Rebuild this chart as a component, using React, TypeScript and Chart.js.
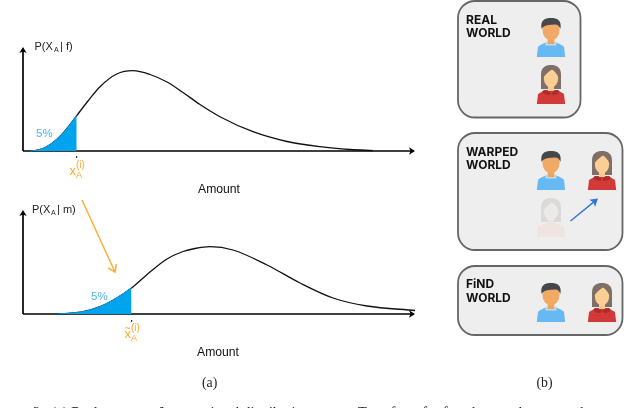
import React, { useEffect, useRef } from "react";
import { Chart, registerables } from "chart.js";

Chart.register(...registerables);

const topAmount = [7, 12, 20, 28, 37, 44, 53.7, 65, 77, 93.7, 110, 127, 144, 160, 177, 197, 230, 264, 297, 327, 350];
const topDensity = [0, 0.4, 2.5, 7, 14.5, 22.5, 35.3, 50, 64.3, 77, 80.3, 76.5, 69, 58.5, 46.5, 34.3, 19.3, 9.5, 4.3, 1.5, 0.4];
const topShadeAmount = [7, 12, 20, 28, 37, 44, 53.7];
const topShadeDensity = [0, 0.4, 2.5, 7, 14.5, 22.5, 35.3];

const bottomAmount = [35, 44, 60, 77, 93.7, 108.5, 127, 144, 160, 172, 187, 210, 244, 277, 310, 344, 392];
const bottomDensity = [0, 0.5, 2.3, 7.3, 16, 26, 42, 55, 62.5, 65.5, 67.3, 64, 49, 31, 16, 8, 3.5];
const bottomShadeAmount = [35, 44, 60, 77, 93.7, 108.5];
const bottomShadeDensity = [0, 0.5, 2.3, 7.3, 16, 26];

const toPoints = (xs: number[], ys: number[]) => xs.map((x, i) => ({ x, y: ys[i] }));

const BLUE = "#00a3ee";
const ORANGE = "#f9ab2b";

function man(c: CanvasRenderingContext2D, cx: number, top: number) {
  c.save();
  c.translate(cx, top);
  c.fillStyle = "#66b9f3";
  c.beginPath();
  c.moveTo(-14.2, 39);
  c.lineTo(-13, 29);
  c.quadraticCurveTo(-12, 27, -5, 24.5);
  c.lineTo(5, 24.5);
  c.quadraticCurveTo(12, 27, 13, 29);
  c.lineTo(14.2, 39);
  c.closePath();
  c.fill();
  c.fillStyle = "#c9d6de";
  c.fillRect(-5.5, 23.5, 11, 4);
  c.fillStyle = "#e8a461";
  c.fillRect(-3.2, 18, 6.4, 8);
  c.fillStyle = "#f0aa66";
  c.beginPath();
  c.ellipse(0, 11.5, 8.6, 11, 0, 0, Math.PI * 2);
  c.fill();
  c.fillStyle = "#45474b";
  c.beginPath();
  c.moveTo(-9.4, 11);
  c.bezierCurveTo(-11, 2, -6, 0, 0, 0);
  c.bezierCurveTo(6, 0, 11, 2, 9.4, 11);
  c.bezierCurveTo(8, 7, 6, 6, 3, 6.5);
  c.bezierCurveTo(-1, 7, -7, 6.5, -9.4, 11);
  c.closePath();
  c.fill();
  c.restore();
}

function woman(c: CanvasRenderingContext2D, cx: number, top: number, ghost = false) {
  c.save();
  c.translate(cx, top);
  c.fillStyle = ghost ? "#dcdad9" : "#7f6f66";
  c.beginPath();
  c.moveTo(-10, 24);
  c.lineTo(-10, 9.5);
  c.bezierCurveTo(-10, 2, -5, 0, 0, 0);
  c.bezierCurveTo(5, 0, 10, 2, 10, 9.5);
  c.lineTo(10, 24);
  c.closePath();
  c.fill();
  c.fillStyle = ghost ? "#f0e4e2" : "#d13a37";
  c.beginPath();
  c.moveTo(-14.2, 39);
  c.lineTo(-13, 29.5);
  c.quadraticCurveTo(-11, 27, -5, 25);
  c.lineTo(5, 25);
  c.quadraticCurveTo(11, 27, 13, 29.5);
  c.lineTo(14.2, 39);
  c.closePath();
  c.fill();
  if (!ghost) {
    c.fillStyle = "#ae2d2c";
    c.beginPath();
    c.ellipse(-4.5, 27.5, 4, 2.2, 0.3, 0, Math.PI * 2);
    c.ellipse(4.5, 27.5, 4, 2.2, -0.3, 0, Math.PI * 2);
    c.fill();
  }
  c.fillStyle = ghost ? "#e8e6e4" : "#f9c98d";
  c.fillRect(-3, 18, 6, 8);
  c.fillStyle = ghost ? "#eceae8" : "#fbcf94";
  c.beginPath();
  c.ellipse(0, 13, 7.2, 9.5, 0, 0, Math.PI * 2);
  c.fill();
  c.fillStyle = ghost ? "#dcdad9" : "#7f6f66";
  c.beginPath();
  c.moveTo(-7.4, 12);
  c.bezierCurveTo(-5, 9, -2, 6, 1, 4.5);
  c.bezierCurveTo(4, 6.5, 6, 9, 7.4, 12);
  c.lineTo(7.4, 3);
  c.lineTo(-7.4, 3);
  c.closePath();
  c.fill();
  c.restore();
}

function panel(c: CanvasRenderingContext2D, x: number, y: number, w: number, h: number) {
  c.beginPath();
  c.roundRect(x, y, w, h, 17);
  c.fillStyle = "#eeeeee";
  c.fill();
  c.strokeStyle = "#666666";
  c.lineWidth = 1.8;
  c.stroke();
}

function arrow(c: CanvasRenderingContext2D, x0: number, y0: number, x1: number, y1: number, color: string, w: number, head: number, open = false) {
  const a = Math.atan2(y1 - y0, x1 - x0);
  c.strokeStyle = color;
  c.fillStyle = color;
  c.lineWidth = w;
  c.beginPath();
  c.moveTo(x0, y0);
  c.lineTo(x1 - Math.cos(a) * (open ? 0 : head * 0.5), y1 - Math.sin(a) * (open ? 0 : head * 0.5));
  c.stroke();
  c.beginPath();
  if (open) {
    c.moveTo(x1 - Math.cos(a - 0.6) * head, y1 - Math.sin(a - 0.6) * head);
    c.lineTo(x1, y1);
    c.lineTo(x1 - Math.cos(a + 0.6) * head, y1 - Math.sin(a + 0.6) * head);
    c.stroke();
  } else {
    c.moveTo(x1, y1);
    c.lineTo(x1 - Math.cos(a - 0.55) * head, y1 - Math.sin(a - 0.55) * head);
    c.lineTo(x1 - Math.cos(a) * head * 0.65, y1 - Math.sin(a) * head * 0.65);
    c.lineTo(x1 - Math.cos(a + 0.55) * head, y1 - Math.sin(a + 0.55) * head);
    c.closePath();
    c.fill();
  }
}

function text(c: CanvasRenderingContext2D, s: string, x: number, y: number, font: string, color: string) {
  c.font = font;
  c.fillStyle = color;
  c.textAlign = "left";
  c.textBaseline = "alphabetic";
  c.fillText(s, x, y);
}

const SANS = '"Liberation Sans", sans-serif';
const SERIF = '"Liberation Serif", serif';
const HEAD = '700 12px Inter, sans-serif';

const decor = {
  id: "decor",
  beforeDatasetsDraw(chart: any) {
    const c: CanvasRenderingContext2D = chart.ctx;
    const { x, y1, y2 } = chart.scales;
    c.save();
    for (const scale of [y1, y2]) {
      const ox = x.getPixelForValue(0);
      const oy = scale.getPixelForValue(0);
      arrow(c, ox, oy, ox, scale.getPixelForValue(104), "#000000", 1.7, 7);
      arrow(c, ox, oy, x.getPixelForValue(392), oy, "#000000", 1.5, 7);
    }
    c.restore();
  },
  afterDraw(chart: any) {
    const c: CanvasRenderingContext2D = chart.ctx;
    c.save();
    text(c, "P(X", 34.5, 50, `11px ${SANS}`, "#222");
    text(c, "A", 54, 52, `7px ${SANS}`, "#222");
    text(c, "| f)", 60, 50, `11px ${SANS}`, "#222");
    text(c, "P(X", 32, 213, `11px ${SANS}`, "#222");
    text(c, "A", 51, 215, `7px ${SANS}`, "#222");
    text(c, "| m)", 57, 213, `11px ${SANS}`, "#222");
    text(c, "5%", 36, 137, `11.5px ${SANS}`, "#4fb3ef");
    text(c, "5%", 91, 300, `11.5px ${SANS}`, "#4fb3ef");
    text(c, "Amount", 198, 193, `12.2px ${SANS}`, "#111");
    text(c, "Amount", 197, 356, `12.2px ${SANS}`, "#111");
    c.fillStyle = "#333";
    c.fillRect(76, 156, 1.2, 2);
    c.fillRect(131, 320, 1.2, 2);
    text(c, "x", 69.5, 175, `13px ${SANS}`, ORANGE);
    text(c, "A", 76, 178, `9px ${SANS}`, ORANGE);
    text(c, "(i)", 76, 168, `10px ${SANS}`, ORANGE);
    text(c, "x", 124.5, 338, `13px ${SANS}`, ORANGE);
    text(c, "~", 124.5, 332, `10px ${SANS}`, ORANGE);
    text(c, "A", 131, 341, `9px ${SANS}`, ORANGE);
    text(c, "(i)", 131, 331, `10px ${SANS}`, ORANGE);
    arrow(c, 82, 200, 115, 272, ORANGE, 1.4, 8, true);
    text(c, "(a)", 202, 386.5, `13.8px ${SERIF}`, "#222");
    text(c, "(b)", 536.5, 386.5, `13.8px ${SERIF}`, "#222");
    text(c, "2:  (a) Real vs. warped", 33, 417, `14.5px ${SERIF}`, "#222");
    text(c, "interventional distribution.", 159, 417, `14.5px ${SERIF}`, "#222");
    text(c, "Transform for female to male scores, then", 358, 417, `14.5px ${SERIF}`, "#222");
    panel(c, 458, 1, 122.5, 116.5);
    panel(c, 458, 133, 164.5, 117);
    panel(c, 458, 266, 164.5, 69);
    text(c, "REAL", 466, 23.5, HEAD, "#111");
    text(c, "WORLD", 466, 36.5, HEAD, "#111");
    text(c, "WARPED", 466, 156, HEAD, "#111");
    text(c, "WORLD", 466, 169, HEAD, "#111");
    text(c, "FiND", 466, 288, HEAD, "#111");
    text(c, "WORLD", 466, 301.5, HEAD, "#111");
    man(c, 551, 18);
    woman(c, 551, 65);
    man(c, 551, 151);
    woman(c, 602, 151);
    woman(c, 551, 198, true);
    man(c, 551, 283);
    woman(c, 602, 283);
    arrow(c, 570.5, 221, 598, 198.5, "#2f74d8", 1.4, 9);
    c.restore();
  },
};

export default function App() {
  const ref = useRef<HTMLCanvasElement>(null);
  useEffect(() => {
    document.body.style.margin = "0";
    const shade = { showLine: true, borderWidth: 1, borderColor: BLUE, backgroundColor: BLUE, pointRadius: 0, fill: "origin" };
    const curve = { showLine: true, borderWidth: 1.3, borderColor: "#111111", pointRadius: 0, fill: false, cubicInterpolationMode: "monotone" };
    const chart = new Chart(ref.current!, {
      type: "scatter",
      data: {
        datasets: [
          { ...shade, yAxisID: "y1", data: toPoints(topShadeAmount, topShadeDensity), cubicInterpolationMode: "monotone" },
          { ...shade, yAxisID: "y2", data: toPoints(bottomShadeAmount, bottomShadeDensity), cubicInterpolationMode: "monotone" },
          { ...curve, yAxisID: "y1", data: toPoints(topAmount, topDensity) },
          { ...curve, yAxisID: "y2", data: toPoints(bottomAmount, bottomDensity) },
        ] as any,
      },
      options: {
        responsive: false,
        animation: false,
        layout: { padding: 0 },
        plugins: { legend: { display: false }, tooltip: { enabled: false } },
        scales: {
          x: { type: "linear", display: false, min: -23, max: 617 },
          y1: { type: "linear", display: false, min: -257, max: 151 },
          y2: { type: "linear", display: false, min: -94, max: 314 },
        },
      },
      plugins: [decor],
    });
    return () => chart.destroy();
  }, []);
  return <canvas ref={ref} width={640} height={408} style={{ display: "block" }} />;
}
